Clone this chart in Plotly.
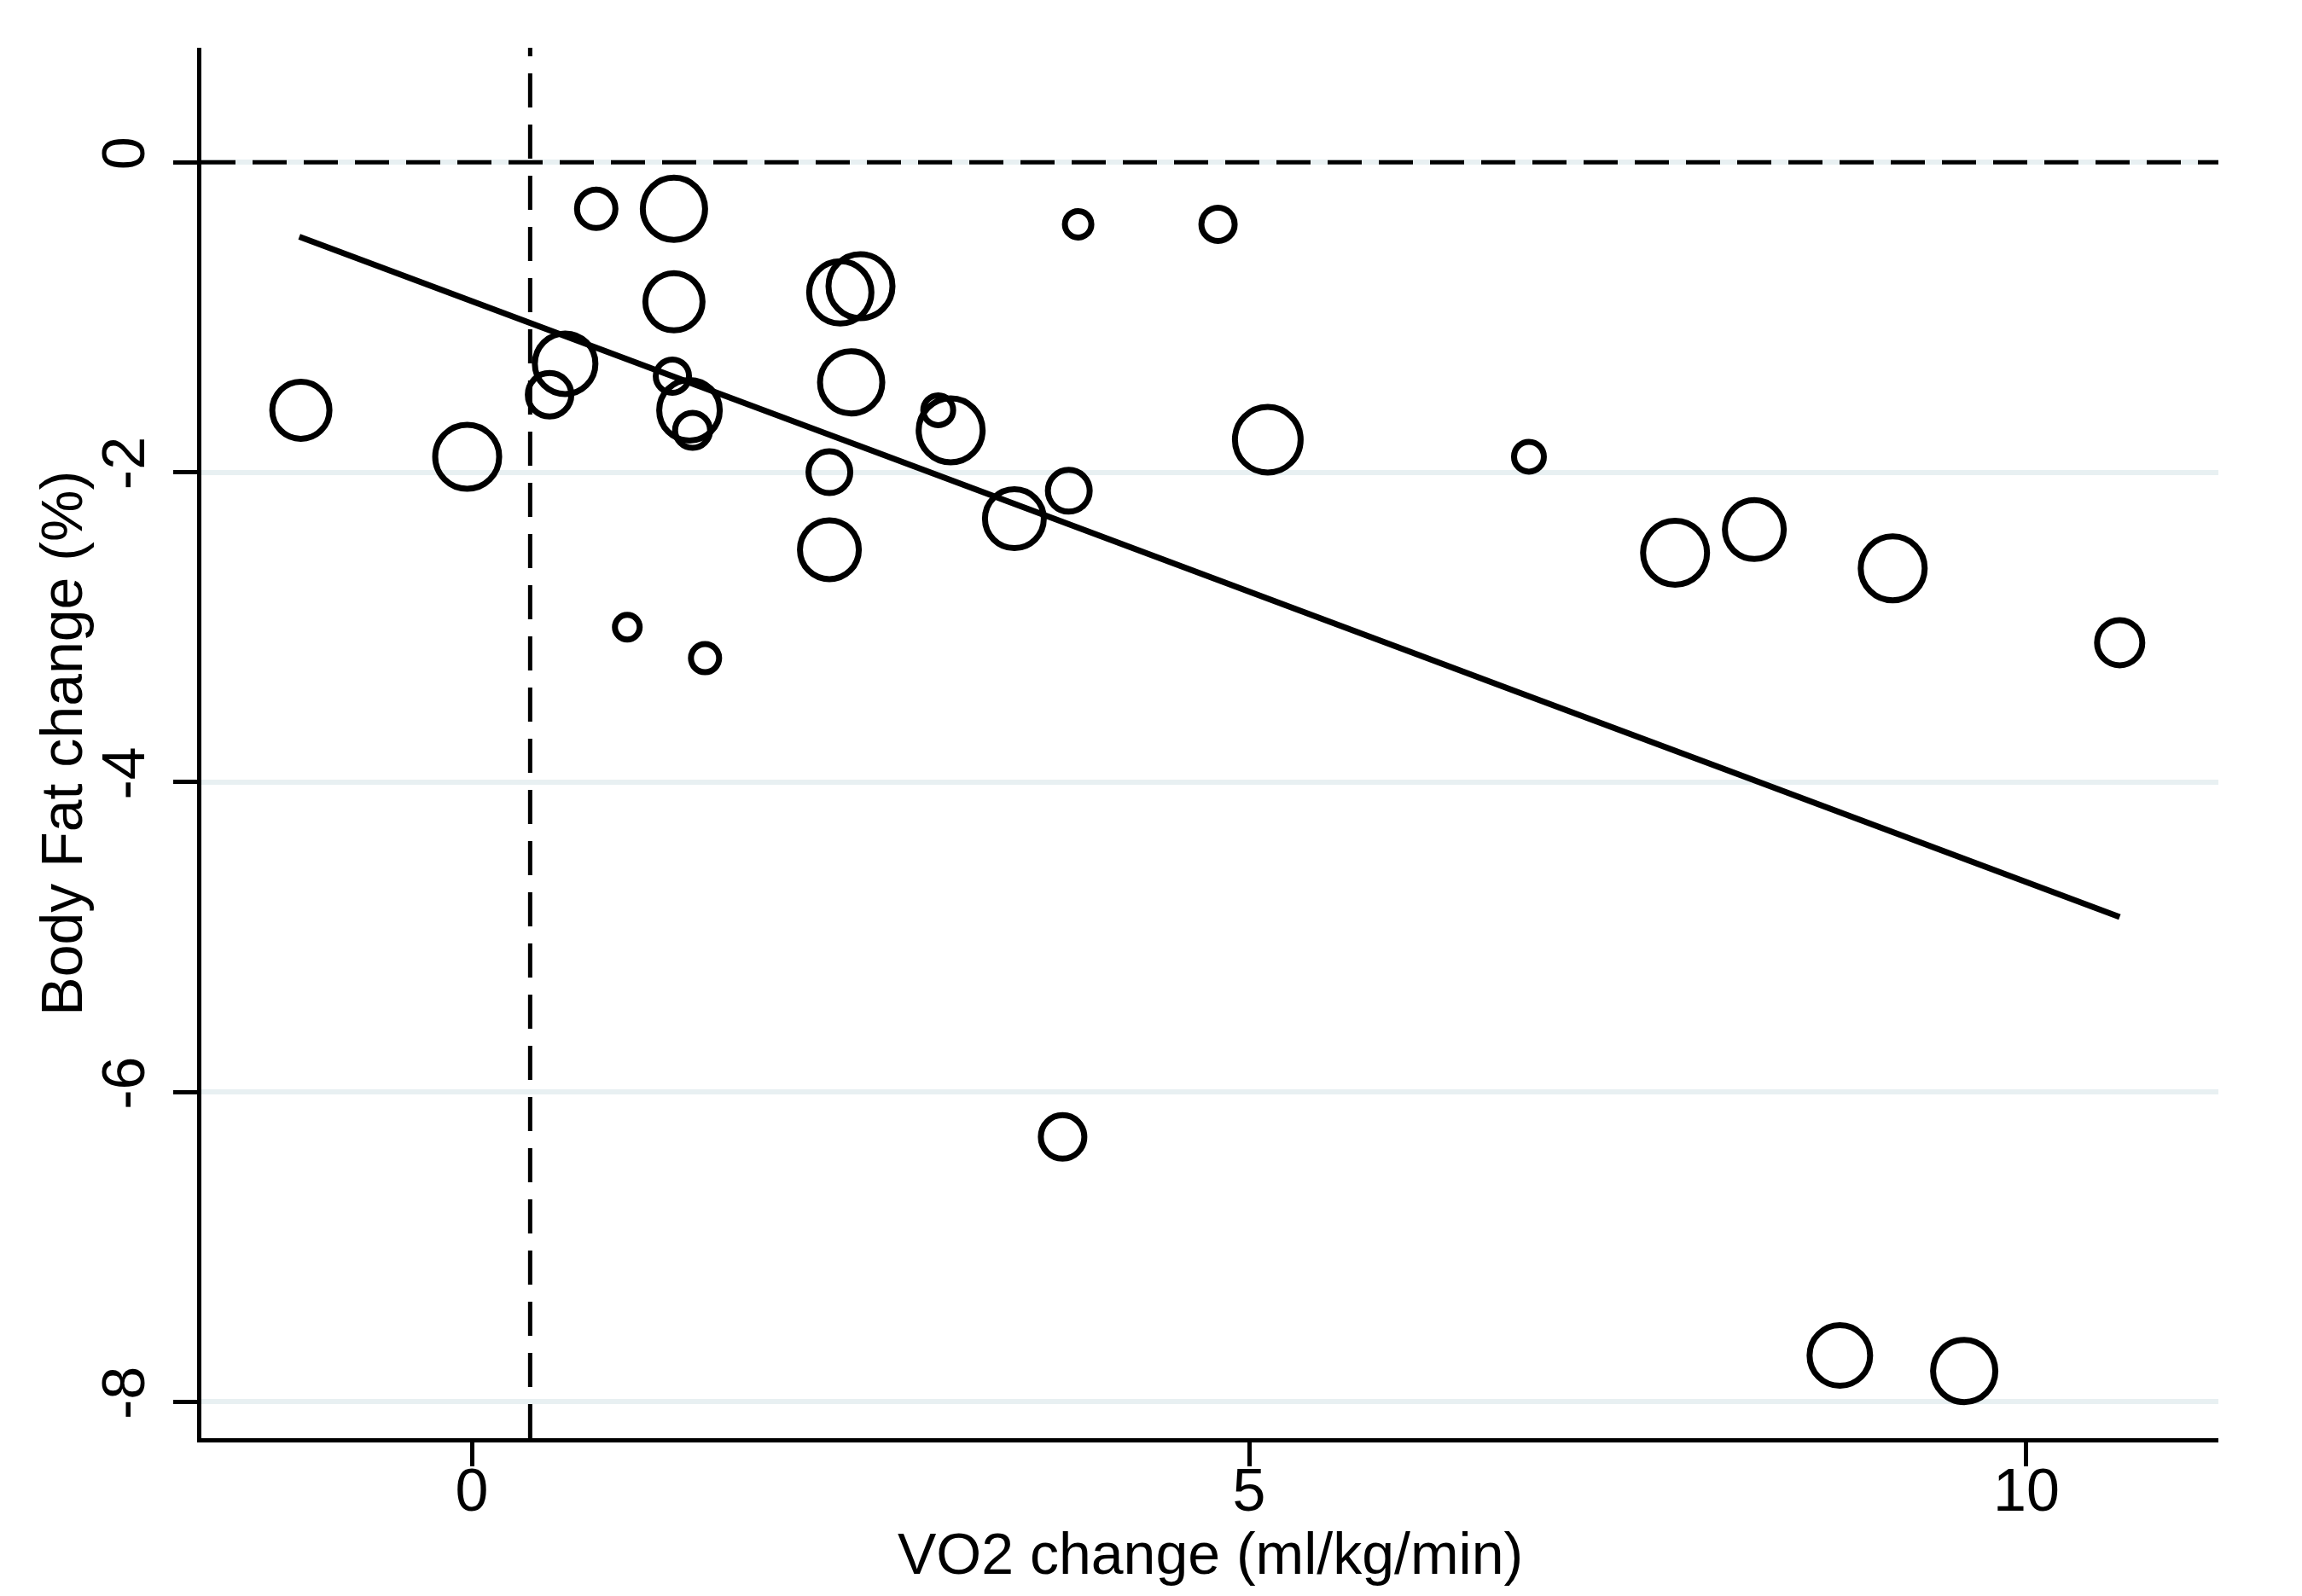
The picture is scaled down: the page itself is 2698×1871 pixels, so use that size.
import plotly.graph_objects as go

# ---- data ----
vo2_change = [-1.10, -0.03, 0.50, 0.60, 0.80, 1.00, 1.30, 1.30, 1.29, 1.40, 1.42, 1.50,
              2.37, 2.50, 2.44, 2.30, 2.30, 3.00, 3.08, 3.49, 3.84, 3.90, 3.80, 4.80,
              5.12, 6.80, 7.74, 8.25, 9.14, 10.60, 8.80, 9.60]
fat_change = [-1.60, -1.90, -1.50, -1.30, -0.30, -3.00, -0.30, -0.90, -1.38, -1.60, -1.73, -3.20,
              -0.84, -0.80, -1.42, -2.00, -2.50, -1.60, -1.73, -2.30, -2.12, -0.40, -6.29, -0.40,
              -1.79, -1.90, -2.52, -2.37, -2.62, -3.10, -7.70, -7.80]
study_weight = [36, 40, 28, 38, 25, 17, 39, 36, 22, 38, 23, 19,
                39, 40, 39, 27, 37, 20, 40, 37, 27, 18, 28, 22,
                41, 20, 40, 37, 40, 29, 38, 39]

fit_x = [-1.11, 10.60]
fit_y = [-0.48, -4.87]

ref_vo2 = 0.375
ref_fat = 0.0

x_ticks = [0, 5, 10]
y_ticks = [0, -2, -4, -6, -8]
x_range = [-1.74, 11.235]
y_range = [-8.234, 0.739]

x_title = "VO2 change (ml/kg/min)"
y_title = "Body Fat change (%)"

# ---- figure ----
FONT = "Liberation Sans, Arial, Helvetica, sans-serif"
sizes = [2 * w - 5 for w in study_weight]

fig = go.Figure()
fig.add_trace(go.Scatter(
    x=vo2_change, y=fat_change, mode="markers",
    marker=dict(symbol="circle", size=sizes, color="rgba(0,0,0,0)", opacity=1,
                line=dict(width=7, color="black")),
    showlegend=False, hoverinfo="x+y"))
fig.add_trace(go.Scatter(
    x=fit_x, y=fit_y, mode="lines",
    line=dict(color="black", width=7),
    showlegend=False))

fig.add_shape(type="line", xref="paper", x0=0, x1=1, yref="y", y0=ref_fat, y1=ref_fat,
              line=dict(color="black", width=5, dash="40px,20px"), layer="above")
fig.add_shape(type="line", xref="x", x0=ref_vo2, x1=ref_vo2, yref="paper", y0=0, y1=1,
              line=dict(color="black", width=5, dash="40px,20px"), layer="above")

fig.add_annotation(text=x_title, xref="paper", yref="paper", x=0.5, y=-0.083,
                   xanchor="center", yanchor="middle", showarrow=False,
                   font=dict(family=FONT, size=68, color="black"))
fig.add_annotation(text=y_title, xref="paper", yref="paper", x=-0.0695, y=0.5,
                   xanchor="center", yanchor="middle", textangle=-90, showarrow=False,
                   font=dict(family=FONT, size=68, color="black"))

fig.update_layout(
    width=2698, height=1871,
    margin=dict(l=228, r=106, t=48, b=193, autoexpand=False),
    paper_bgcolor="white", plot_bgcolor="white",
    font=dict(family=FONT, size=68, color="black"),
)
fig.update_xaxes(
    range=x_range, tickvals=x_ticks, ticktext=[str(v) for v in x_ticks],
    showgrid=False, zeroline=False,
    showline=True, linecolor="black", linewidth=5,
    ticks="outside", ticklen=28, tickwidth=5, tickcolor="black",
    ticklabelstandoff=-32,
    tickfont=dict(family=FONT, size=70, color="black"),
    automargin=False,
)
fig.update_yaxes(
    range=y_range, tickvals=y_ticks, ticktext=[str(v) for v in y_ticks],
    tickangle=-90,
    showgrid=True, gridcolor="#E8F0F2", gridwidth=6,
    zeroline=False,
    showline=True, linecolor="black", linewidth=5,
    ticks="outside", ticklen=28, tickwidth=5, tickcolor="black",
    ticklabelstandoff=6,
    tickfont=dict(family=FONT, size=70, color="black"),
    automargin=False,
)

fig.write_html("out.html")
